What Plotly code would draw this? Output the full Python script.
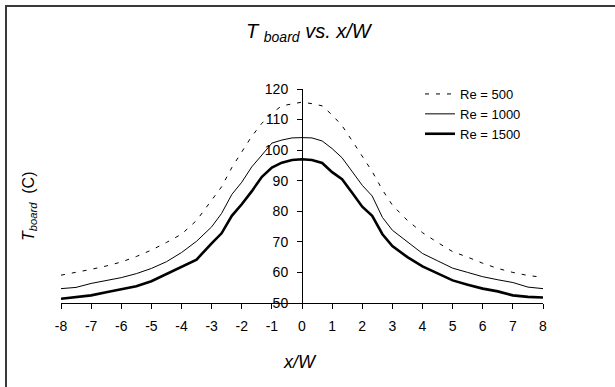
import plotly.graph_objects as go

# ---- data ----
x_over_w = [-8, -7.5, -7, -6.5, -6, -5.5, -5, -4.5, -4, -3.5, -3, -2.67, -2.33, -2, -1.67, -1.33, -1,
            -0.67, -0.33, 0, 0.33, 0.67, 1, 1.33, 1.67, 2, 2.33, 2.67, 3, 3.5, 4, 4.5, 5, 5.5, 6,
            6.5, 7, 7.5, 8]

t_re500 = [59.1, 60.0, 61.0, 62.1, 63.4, 65.2, 67.3, 69.8, 72.5, 77.0, 83.5, 88.0, 94.3, 99.5,
           104.5, 108.8, 112.1, 114.5, 115.2, 115.7, 115.2, 114.5, 111.5, 108.0, 103.0, 98.0,
           93.0, 87.0, 82.0, 77.0, 73.0, 69.8, 66.8, 65.0, 63.0, 61.3, 60.0, 59.0, 58.4]

t_re1000 = [54.7, 55.1, 56.4, 57.3, 58.3, 59.6, 61.3, 63.5, 66.5, 70.2, 74.9, 79.3, 85.5, 89.5,
            94.5, 98.4, 102.3, 103.3, 104.0, 104.1, 104.0, 103.0, 100.5, 97.5, 93.0, 88.5,
            85.0, 78.0, 73.8, 70.0, 66.2, 63.8, 61.4, 60.0, 58.6, 57.6, 56.7, 55.2, 54.7]

t_re1500 = [51.4, 52.0, 52.5, 53.5, 54.5, 55.5, 57.1, 59.4, 61.8, 64.2, 69.5, 72.8, 78.5, 82.3,
            86.5, 91.3, 94.3, 95.9, 96.8, 97.0, 96.8, 95.8, 92.8, 90.5, 86.0, 81.5, 78.5,
            72.5, 68.6, 65.0, 62.0, 59.8, 57.4, 56.0, 54.7, 53.8, 52.5, 52.0, 51.8]

series_names = ["Re = 500", "Re = 1000", "Re = 1500"]
x_ticks = list(range(-8, 9))
x_tick_labels = [str(v) for v in x_ticks]  # plain hyphen minus, as in the reference
y_ticks = list(range(50, 121, 10))

# ---- layout helpers ----
W, H = 615, 387
L, R, T, B = 61, 72, 89, 84
PW, PH = W - L - R, H - T - B


def px_x(p):
    return (p - L) / PW


def px_y(p):
    return (H - B - p) / PH


FONT = "Liberation Sans, Arial, sans-serif"

fig = go.Figure()
styles = [
    dict(color="black", width=1, dash="4px,7px"),
    dict(color="black", width=1),
    dict(color="black", width=2.6),
]
for name, ys, st in zip(series_names, [t_re500, t_re1000, t_re1500], styles):
    fig.add_trace(go.Scatter(x=x_over_w, y=ys, mode="lines", name=name, line=st))

fig.update_layout(
    width=W, height=H,
    margin=dict(l=L, r=R, t=T, b=B),
    paper_bgcolor="white", plot_bgcolor="white",
    font=dict(family=FONT, size=14, color="black"),
    showlegend=True,
    legend=dict(x=px_x(420), y=px_y(79), xanchor="left", yanchor="top",
                bgcolor="rgba(0,0,0,0)", font=dict(size=13), tracegroupgap=0,
                itemwidth=30),
    xaxis=dict(range=[-8, 8], tickvals=x_ticks, ticktext=x_tick_labels, showline=True,
               linecolor="black", linewidth=1, ticks="outside", ticklen=5,
               tickcolor="black", ticklabelstandoff=5,
               showgrid=False, zeroline=False, fixedrange=True),
    yaxis=dict(range=[50, 120], tickvals=y_ticks, showline=True, linecolor="black",
               linewidth=1, ticks="outside", ticklen=5, tickcolor="black",
               ticklabelstandoff=6,
               showgrid=False, zeroline=False, anchor="free", position=0.5,
               side="left", fixedrange=True),
    annotations=[
        dict(text="<i>T <sub>board</sub> vs. x/W</i>", x=px_x(309), y=px_y(33),
             xref="paper", yref="paper", showarrow=False, font=dict(size=20),
             xanchor="center", yanchor="middle"),
        dict(text="<i>x/W</i>", x=px_x(300), y=px_y(362), xref="paper", yref="paper",
             showarrow=False, font=dict(size=18), xanchor="center", yanchor="middle"),
        dict(text="<i>T<sub>board</sub></i>  (C)", x=px_x(29), y=px_y(206),
             xref="paper", yref="paper", showarrow=False, font=dict(size=16),
             textangle=-90, xanchor="center", yanchor="middle"),
    ],
    shapes=[
        dict(type="line", xref="paper", yref="paper", x0=px_x(5), x1=px_x(640),
             y0=px_y(6), y1=px_y(6), line=dict(color="#3a3a3a", width=2)),
        dict(type="line", xref="paper", yref="paper", x0=px_x(6), x1=px_x(6),
             y0=px_y(5), y1=px_y(420), line=dict(color="#3a3a3a", width=2)),
    ],
)

fig.write_html("out.html", include_plotlyjs=True, config={"displayModeBar": False})
